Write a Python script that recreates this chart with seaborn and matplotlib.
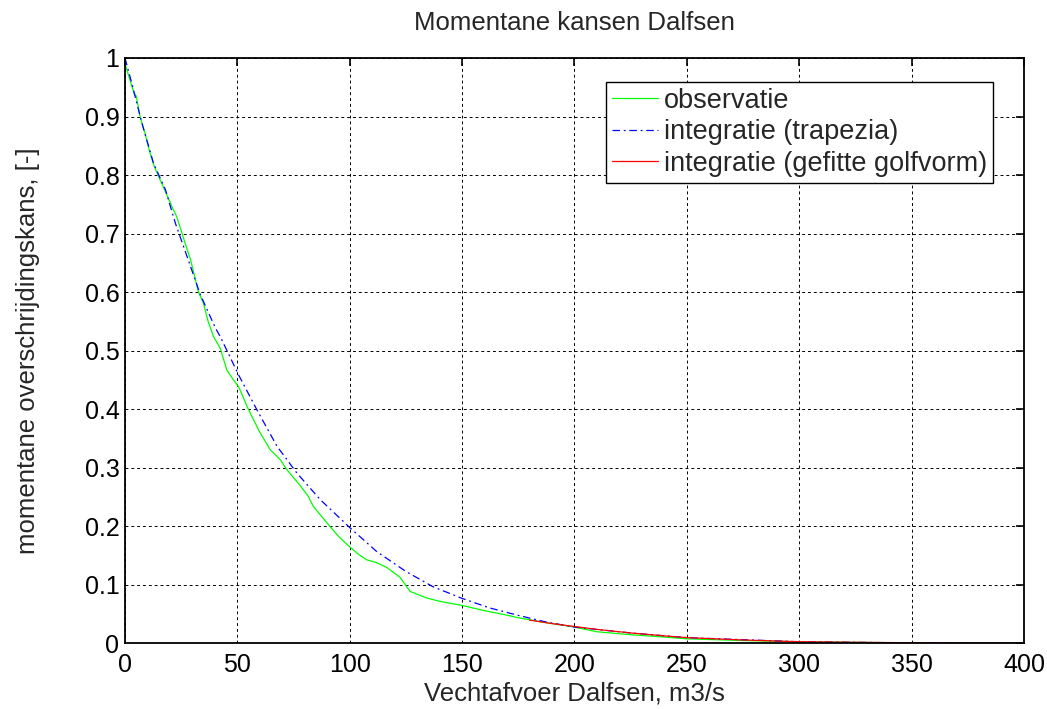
import numpy as np
import pandas as pd
import matplotlib
matplotlib.use('Agg')
import matplotlib.pyplot as plt
import seaborn as sns

obs_q = [0, 2, 4, 5, 6.7, 9, 11.1, 13, 14.7, 17, 19, 21, 23, 25, 26.7, 29.2, 32.7,
         34.9, 37, 39.4, 42.4, 45.3, 48.3, 50.5, 55, 60.1, 64.6, 69.1, 72, 77.9,
         81.6, 83.8, 91.2, 95, 100, 104, 107.5, 112, 116.4, 122.4, 126.8, 134, 140,
         150, 160, 168, 175, 185, 200, 210, 225, 240, 250, 275, 300, 325, 350, 375, 400]
obs_p = [0.99, 0.965, 0.94, 0.935, 0.90, 0.87, 0.838, 0.815, 0.80, 0.78, 0.763, 0.745,
         0.729, 0.705, 0.684, 0.655, 0.60, 0.581, 0.55, 0.524, 0.504, 0.467, 0.45, 0.439,
         0.399, 0.36, 0.331, 0.314, 0.297, 0.27, 0.251, 0.234, 0.20, 0.183, 0.165, 0.152,
         0.143, 0.138, 0.130, 0.113, 0.089, 0.078, 0.072, 0.065, 0.056, 0.050, 0.044,
         0.037, 0.028, 0.020, 0.015, 0.011, 0.008, 0.005, 0.003, 0.002, 0.001, 0.0007, 0.0005]

# Integration with trapezia
trap_q = [0, 3, 7.5, 12.7, 18, 22.4, 27.6, 33.5, 40.2, 42.4, 50.5, 58.7, 67.6, 76.5,
          86.8, 100, 112, 125, 137, 150, 162, 175, 187, 200, 225, 250, 300, 350, 400]
trap_p = [1.0, 0.957, 0.889, 0.82, 0.775, 0.718, 0.661, 0.596, 0.539, 0.524, 0.459,
          0.399, 0.337, 0.291, 0.246, 0.198, 0.157, 0.123, 0.097, 0.077, 0.061, 0.048,
          0.037, 0.028, 0.018, 0.010, 0.003, 0.001, 0.0005]

# Integration with fitted wave shape
fit_q = [180, 190, 200, 210, 225, 240, 250, 275, 300, 325, 350, 375, 400]
fit_p = [0.040, 0.034, 0.029, 0.024, 0.018, 0.013, 0.010, 0.006, 0.003, 0.002,
         0.0013, 0.0008, 0.0005]

sns.set_style('white')
plt.rcParams['font.family'] = ['Liberation Sans', 'DejaVu Sans']

fig = plt.figure(figsize=(10.47, 7.09), dpi=100)
ax = fig.add_axes([0.1194, 0.0924, 0.8586, 0.8258])

df_obs = pd.DataFrame({'q': obs_q, 'p': obs_p})
df_trap = pd.DataFrame({'q': trap_q, 'p': trap_p})
df_fit = pd.DataFrame({'q': fit_q, 'p': fit_p})

sns.lineplot(data=df_obs, x='q', y='p', ax=ax, color='#00ff00', lw=0.9,
             label='observatie', estimator=None, sort=False)
sns.lineplot(data=df_trap, x='q', y='p', ax=ax, color='#0000ff', lw=0.9,
             label='integratie (trapezia)', estimator=None, sort=False)
ax.lines[-1].set_linestyle((0, (6, 3, 1.5, 3)))
sns.lineplot(data=df_fit, x='q', y='p', ax=ax, color='#ff0000', lw=0.9,
             label='integratie (gefitte golfvorm)', estimator=None, sort=False)

ax.set_xlim(0, 400)
ax.set_ylim(0, 1)
ax.set_xticks(np.arange(0, 401, 50))
ax.set_yticks(np.arange(0, 1.01, 0.1))
ax.set_yticklabels(['0', '0.1', '0.2', '0.3', '0.4', '0.5', '0.6', '0.7', '0.8', '0.9', '1'])
ax.grid(True, color='black', linestyle=(0, (3, 3)), linewidth=0.7)
ax.tick_params(direction='in', length=6, width=1.2, top=True, right=True,
               labelsize=18, colors='black')
ax.tick_params(axis='x', pad=7)
ax.tick_params(axis='y', pad=4)
for s in ax.spines.values():
    s.set_color('black')
    s.set_linewidth(1.3)

ax.set_title('Momentane kansen Dalfsen', fontsize=18.5, pad=20)
ax.set_xlabel('Vechtafvoer Dalfsen, m3/s', fontsize=18.5, labelpad=3)
ax.set_ylabel('momentane overschrijdingskans, [-]', fontsize=18.5, labelpad=32)

leg = ax.legend(loc='upper right', bbox_to_anchor=(0.9655, 0.959), fontsize=19.5,
                fancybox=False, framealpha=1, edgecolor='black', handlelength=1.7,
                handletextpad=0.22, borderpad=0.22, labelspacing=0.2, borderaxespad=0)
leg.get_frame().set_linewidth(1.0)

fig.savefig('out.png', dpi=100)
